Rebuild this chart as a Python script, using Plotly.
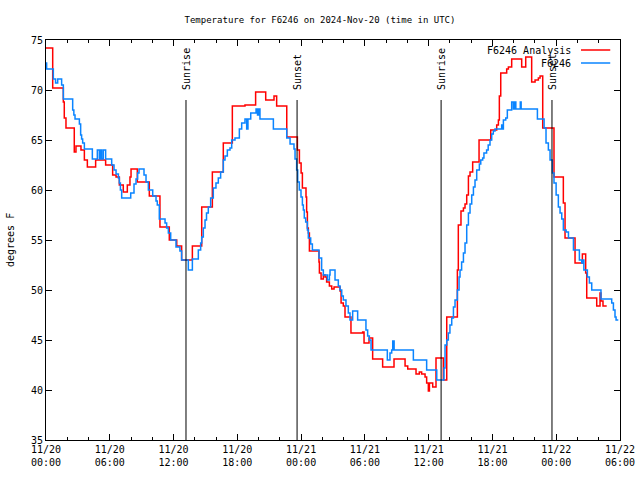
import pandas as pd
import plotly.graph_objects as go

# ---------------- data (hours after 2024-11-20 00:00 UTC, deg F) ----------------
red_hours = [0.0, 0.63, 1.63, 1.72, 1.88, 2.66, 2.82, 3.29, 3.61, 3.89, 4.67, 5.61, 6.27, 6.59,
             6.9, 7.27, 7.65, 7.9, 8.0, 8.59, 9.72, 10.72, 11.6, 12.3, 12.76, 13.77, 14.65,
             15.65, 16.68, 17.53, 18.72, 19.72, 20.67, 21.45, 21.70, 22.65, 23.65, 23.84,
             24.0, 24.12, 24.46, 24.52, 24.59, 24.68, 24.78, 25.68, 25.72, 25.88, 26.09,
             26.25, 26.40, 26.66, 26.88, 27.10, 27.66, 27.76, 27.97, 28.13, 28.69, 29.79,
             29.92, 30.39, 30.73, 31.67, 32.74, 33.78, 34.03, 34.81, 35.12, 35.34, 35.66,
             35.81, 35.97, 36.07, 36.38, 36.69, 37.38, 37.70, 38.70, 38.79, 39.04, 39.27,
             39.42, 39.58, 39.74, 39.89, 40.14, 40.74, 41.84, 42.40, 42.56, 42.65, 42.78,
             43.34, 43.50, 43.81, 44.75, 45.13, 45.69, 46.01, 46.32, 46.48, 46.73, 47.79,
             48.67, 48.83, 49.77, 50.46, 50.77, 50.87, 51.81, 52.12, 52.21, 52.4, 52.75]
red_temp = [74.2, 70.2, 68.8, 67.2, 66.2, 63.8, 64.4, 64.0, 63.0, 62.3, 63.0, 62.5, 61.5, 61.3,
            60.5, 59.8, 60.5, 61.3, 62.1, 60.8, 59.4, 56.3, 55.0, 54.4, 53.0, 54.4, 58.3,
            61.8, 64.7, 68.4, 68.5, 69.8, 69.0, 69.4, 68.4, 65.3, 64.0, 62.7,
            61.7, 60.2, 59.3, 57.8, 56.2, 55.7, 53.9, 52.8, 51.7, 51.1, 51.5,
            51.3, 50.8, 50.4, 50.1, 50.3, 49.9, 48.7, 48.4, 47.3, 45.7, 45.8,
            44.7, 45.2, 43.1, 42.3, 43.1, 42.4, 42.1, 41.6, 41.8, 41.6, 41.3,
            40.7, 39.9, 40.7, 40.3, 43.2, 41.0, 47.3, 52.0, 56.5, 57.9, 58.2,
            58.6, 59.5, 61.4, 61.8, 62.8, 65.0, 66.0, 66.5, 67.0, 69.4, 71.7,
            72.1, 72.3, 73.1, 72.3, 73.3, 70.8, 71.0, 71.2, 71.4, 66.2, 61.3,
            58.7, 55.2, 52.7, 53.6, 51.7, 49.2, 48.4, 49.7, 48.9, 48.4, 48.4]

blue_hours = [0.0, 0.06, 0.69, 0.9, 1.1, 1.47, 1.63, 2.51, 2.62, 2.73, 3.14, 3.26, 3.35, 3.45,
              3.61, 4.36, 4.83, 5.02, 5.14, 5.24, 5.39, 5.61, 6.18, 6.4, 6.59, 6.81, 6.9,
              7.0, 7.12, 7.97, 8.28, 8.47, 8.62, 8.75, 9.22, 9.41, 9.63, 10.04, 10.35,
              10.47, 10.66, 11.2, 11.35, 11.51, 11.73, 12.23, 12.6, 12.76, 13.39, 13.77,
              14.33, 14.55, 14.65, 14.8, 14.96, 15.1, 15.27, 15.49, 15.74, 15.99, 16.21,
              16.43, 16.68, 16.84, 17.06, 17.31, 17.47, 17.78, 18.19, 18.41, 18.72, 18.88,
              19.0, 19.26, 19.76, 19.9, 20.0, 20.13, 21.39, 22.65, 22.96, 23.33, 23.43,
              23.58, 23.68, 23.83, 23.99, 24.12, 24.21, 24.30, 24.43, 24.59, 24.68, 24.90,
              25.06, 25.68, 25.93, 26.09, 26.47, 26.66, 26.72, 27.19, 27.50, 27.66, 27.82,
              27.97, 28.22, 28.44, 28.60, 28.85, 29.32, 30.10, 30.26, 30.42, 30.58, 32.11,
              32.36, 32.52, 32.62, 32.75, 34.56, 35.81, 36.76, 37.44, 37.54, 37.70, 37.85,
              38.0, 38.17, 38.33, 38.48, 38.70, 38.86, 38.95, 39.1, 39.27, 39.42, 39.58,
              39.74, 39.89, 40.05, 40.21, 40.36, 40.52, 40.77, 40.9, 41.08, 41.2, 41.45,
              41.6, 41.77, 41.93, 42.08, 42.24, 42.87, 42.95, 43.03, 43.25, 43.40, 43.81,
              43.97, 44.1, 44.2, 44.62, 44.7, 46.23, 46.86, 47.04, 47.26, 47.42, 47.64,
              47.79, 47.99, 48.2, 48.36, 48.52, 48.67, 48.93, 49.15, 49.62, 50.18, 50.40,
              50.49, 50.6, 50.93, 51.12, 51.34, 52.21, 53.22, 53.38, 53.53, 53.63, 53.84]
blue_temp = [72.7, 72.1, 71.1, 70.7, 71.1, 70.5, 69.1, 68.0, 67.5, 67.1, 66.6, 65.5, 65.1, 64.7,
             64.1, 63.1, 64.0, 63.1, 64.0, 63.1, 64.0, 63.1, 62.5, 62.0, 61.6, 61.2, 60.7,
             60.0, 59.2, 59.7, 60.6, 61.1, 61.7, 62.1, 61.5, 60.8, 60.0, 59.4, 58.9,
             58.5, 57.1, 56.7, 56.2, 55.7, 55.0, 54.3, 53.9, 53.0, 52.0, 53.1,
             54.0, 54.7, 55.3, 56.2, 57.0, 57.7, 58.3, 59.2, 60.2, 60.7, 61.2,
             61.8, 63.0, 63.4, 64.0, 64.2, 65.0, 65.2, 66.1, 66.7, 67.1, 66.1,
             67.1, 67.7, 68.1, 67.5, 68.1, 67.1, 66.1, 65.2, 64.6, 64.1, 63.1,
             62.0, 60.8, 60.0, 59.3, 58.5, 58.0, 57.2, 56.8, 56.0, 55.2, 54.6,
             54.0, 53.2, 52.0, 51.5, 51.0, 51.5, 52.0, 51.0, 50.4, 50.0, 49.4,
             49.0, 48.4, 47.7, 47.0, 47.9, 47.0, 46.0, 45.4, 45.0, 44.0, 43.0,
             43.7, 44.0, 44.9, 44.0, 43.0, 42.0, 41.0, 42.2, 44.5, 45.0, 45.7,
             46.5, 47.2, 48.3, 49.0, 50.0, 51.3, 52.0, 52.8, 53.7, 54.7, 56.5,
             57.7, 58.6, 59.5, 60.3, 61.0, 62.0, 62.6, 63.0, 63.2, 63.7, 64.0,
             64.5, 65.0, 65.6, 65.9, 66.1, 66.5, 66.1, 67.0, 67.2, 68.0, 68.8,
             68.1, 68.8, 68.1, 68.8, 68.1, 67.1, 66.2, 64.7, 64.0, 63.0, 61.7,
             60.7, 59.5, 58.3, 57.7, 57.1, 56.0, 55.8, 55.2, 54.0, 53.0, 52.7,
             53.0, 52.0, 51.3, 50.7, 50.0, 49.1, 48.7, 48.0, 47.3, 47.0, 47.0]

event_hours = [13.17, 23.62, 37.17, 47.6]
event_labels = ["Sunrise", "Sunset", "Sunrise", "Sunset"]

tick_hours = [0, 6, 12, 18, 24, 30, 36, 42, 48, 54]
tick_labels = ["11/20<br>00:00", "11/20<br>06:00", "11/20<br>12:00", "11/20<br>18:00",
               "11/21<br>00:00", "11/21<br>06:00", "11/21<br>12:00", "11/21<br>18:00",
               "11/22<br>00:00", "11/22<br>06:00"]

series_names = ["F6246 Analysis", "F6246"]
series_colors = ["#ff0000", "#0a84ff"]

# ---------------- figure ----------------
base = pd.Timestamp("2024-11-20 00:00:00")


def to_time(hours):
    return [base + pd.Timedelta(hours=h) for h in hours]


FONT = "DejaVu Sans Mono"
FS = 10
LW = 1.5
fig = go.Figure()
for hrs, temps, name, col in [(red_hours, red_temp, series_names[0], series_colors[0]),
                              (blue_hours, blue_temp, series_names[1], series_colors[1])]:
    fig.add_trace(go.Scatter(x=to_time(hrs), y=temps, mode="lines", name=name,
                             line=dict(color=col, width=LW, shape="hv"),
                             showlegend=False, hoverinfo="skip"))

# sunrise / sunset markers
for h, lab in zip(event_hours, event_labels):
    t = base + pd.Timedelta(hours=h)
    fig.add_shape(type="line", xref="x", yref="paper", x0=t, x1=t, y0=0, y1=0.85,
                  line=dict(color="black", width=1))
    fig.add_annotation(x=t, xref="x", y=0.87, yref="paper", text=lab, textangle=-90,
                       showarrow=False, xanchor="center", yanchor="bottom",
                       font=dict(family=FONT, size=FS, color="black"))

# gnuplot-style legend (text right, sample on the right)
leg_y = [0.975, 0.9425]
for name, col, yy in zip(series_names, series_colors, leg_y):
    fig.add_annotation(x=0.918, xref="paper", y=yy, yref="paper", text=name,
                       showarrow=False, xanchor="right", yanchor="middle",
                       font=dict(family=FONT, size=FS, color="black"))
    fig.add_shape(type="line", xref="paper", yref="paper", x0=0.932, x1=0.983,
                  y0=yy, y1=yy, line=dict(color=col, width=LW))

fig.add_annotation(x=-0.0627, xref="paper", y=0.5, yref="paper", text="degrees F",
                   textangle=-90, showarrow=False, xanchor="center", yanchor="middle",
                   font=dict(family=FONT, size=FS, color="black"))

fig.update_layout(
    width=640, height=480,
    margin=dict(l=46, r=20, t=40, b=40, autoexpand=False),
    paper_bgcolor="white", plot_bgcolor="white",
    font=dict(family=FONT, size=FS, color="black"),
    title=dict(text="Temperature for F6246 on 2024-Nov-20 (time in UTC)",
               x=0.5, xref="container", y=1 - 20 / 480, yref="container",
               xanchor="center", yanchor="middle",
               font=dict(family=FONT, size=9, color="black")),
    showlegend=False,
)
fig.update_xaxes(
    range=[base, base + pd.Timedelta(hours=54)],
    tickvals=to_time(tick_hours), ticktext=tick_labels,
    ticks="inside", ticklen=6, tickcolor="black", tickwidth=1,
    showline=True, linecolor="black", linewidth=1, mirror="allticks",
    showgrid=False, zeroline=False,
    minor=dict(ticks="inside", ticklen=3, dtick=2 * 3600 * 1000, tickcolor="black",
               showgrid=False),
    tickfont=dict(family=FONT, size=FS, color="black"),
)
fig.update_yaxes(
    range=[35, 75], dtick=5, tick0=35,
    ticks="inside", ticklen=6, tickcolor="black", tickwidth=1,
    showline=True, linecolor="black", linewidth=1, mirror="allticks",
    showgrid=False, zeroline=False,
    tickfont=dict(family=FONT, size=FS, color="black"),
)

fig.write_html("out.html", config={"displayModeBar": False, "staticPlot": True},
               post_script="document.body.style.margin='0';document.body.style.padding='0';")
